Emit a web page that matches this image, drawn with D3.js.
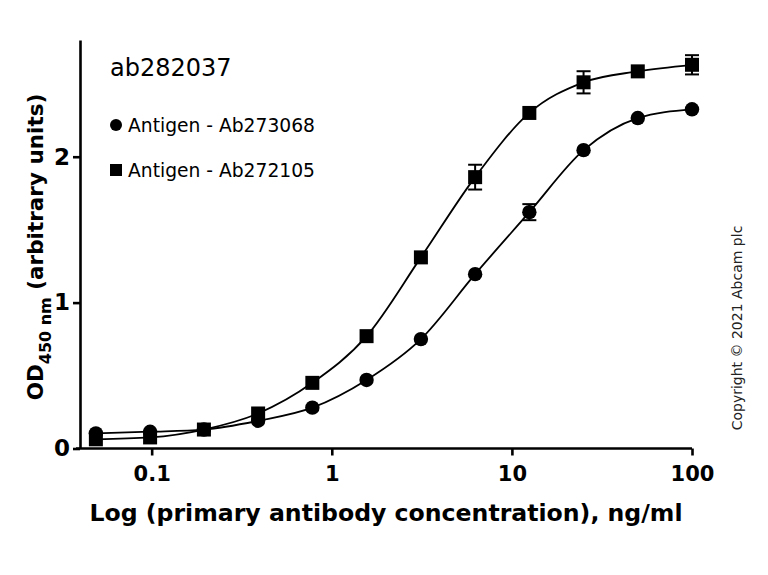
<!DOCTYPE html>
<html>
<head>
<meta charset="utf-8">
<script src="https://cdn.jsdelivr.net/npm/d3@7"></script>
<style>
  body { margin: 0; background: #fff; }
  text { font-family: "DejaVu Sans", sans-serif; }
</style>
</head>
<body>
<div class="canvas"></div>
<script>
const width = 768;
const height = 575;

// Data (2-fold dilution series, ng/ml)
const concentrations = [0.049, 0.098, 0.195, 0.39, 0.78, 1.56, 3.125, 6.25, 12.5, 25, 50, 100];
const ab273068 = [0.104, 0.115, 0.13, 0.19, 0.28, 0.47, 0.75, 1.195, 1.62, 2.045, 2.265, 2.325];
const ab273068Err = [0, 0, 0, 0, 0, 0, 0, 0, 0.055, 0, 0, 0];
const ab272105 = [0.063, 0.076, 0.13, 0.24, 0.45, 0.77, 1.31, 1.86, 2.3, 2.51, 2.585, 2.63];
const ab272105Err = [0, 0, 0, 0, 0, 0, 0, 0.085, 0, 0.076, 0, 0.066];
const xTicks = [0.1, 1, 10, 100];
const yTicks = [0, 1, 2];
const seriesNames = ["Antigen - Ab273068", "Antigen - Ab272105"];

// Scales
const xScale = d3.scaleLog().domain([0.04, 100]).range([80, 692]);
const yScale = d3.scaleLinear().domain([0, 2.8]).range([448.5, 40]);

const svg = d3
  .select(".canvas")
  .append("svg")
  .attr("width", width)
  .attr("height", height);

// Axes
const xAxis = d3
  .axisBottom(xScale)
  .tickValues(xTicks)
  .tickFormat(d3.format("~g"))
  .tickSize(7)
  .tickSizeOuter(0)
  .tickPadding(11);
const yAxis = d3
  .axisLeft(yScale)
  .tickValues(yTicks)
  .tickFormat(d3.format("d"))
  .tickSize(7)
  .tickSizeOuter(0)
  .tickPadding(3);

const gx = svg
  .append("g")
  .attr("class", "axis")
  .attr("transform", `translate(0,${yScale(0)})`)
  .call(xAxis);
gx.select(".domain").attr("d", `M76,0H${xScale(100)}`);
gx.selectAll("text").style("font-size", "21px");

const gy = svg
  .append("g")
  .attr("class", "axis")
  .attr("transform", `translate(${xScale(0.04)},0)`)
  .call(yAxis);
gy.selectAll("text").style("font-size", "23px");

svg.selectAll(".axis path, .axis line")
  .attr("stroke", "#000")
  .attr("stroke-width", 2.6);
svg.selectAll(".axis text")
  .attr("fill", "#000")
  .style("font-family", "'DejaVu Sans', sans-serif")
  .style("font-weight", "bold");

// Axis titles
svg.append("text")
  .attr("x", 386)
  .attr("y", 521)
  .attr("text-anchor", "middle")
  .style("font-weight", "bold")
  .style("font-size", "23.6px")
  .text("Log (primary antibody concentration), ng/ml");

const yTitle = svg.append("text")
  .attr("transform", "translate(43,247) rotate(-90)")
  .attr("text-anchor", "middle")
  .style("font-weight", "bold")
  .style("font-size", "21.5px");
yTitle.append("tspan").text("OD");
yTitle.append("tspan").attr("dy", 8).style("font-size", "16px").text("450 nm");
yTitle.append("tspan").attr("dy", -8).text(" (arbitrary units)");

// Curves through the points
const line = d3.line()
  .x(d => xScale(d[0]))
  .y(d => yScale(d[1]))
  .curve(d3.curveMonotoneX);

const s1 = concentrations.map((c, i) => [c, ab273068[i], ab273068Err[i]]);
const s2 = concentrations.map((c, i) => [c, ab272105[i], ab272105Err[i]]);

[s1, s2].forEach(s => {
  svg.append("path")
    .datum(s)
    .attr("d", line)
    .attr("fill", "none")
    .attr("stroke", "#000")
    .attr("stroke-width", 1.8);
});

// Error bars
function errorBars(s) {
  const g = svg.append("g").attr("stroke", "#000").attr("stroke-width", 2);
  const e = s.filter(d => d[2] > 0);
  g.selectAll("line.v").data(e).enter().append("line")
    .attr("x1", d => xScale(d[0])).attr("x2", d => xScale(d[0]))
    .attr("y1", d => yScale(d[1] - d[2])).attr("y2", d => yScale(d[1] + d[2]));
  g.selectAll("line.t").data(e).enter().append("line")
    .attr("x1", d => xScale(d[0]) - 7).attr("x2", d => xScale(d[0]) + 7)
    .attr("y1", d => yScale(d[1] + d[2])).attr("y2", d => yScale(d[1] + d[2]));
  g.selectAll("line.b").data(e).enter().append("line")
    .attr("x1", d => xScale(d[0]) - 7).attr("x2", d => xScale(d[0]) + 7)
    .attr("y1", d => yScale(d[1] - d[2])).attr("y2", d => yScale(d[1] - d[2]));
}
errorBars(s1);
errorBars(s2);

// Markers
svg.append("g")
  .selectAll("circle")
  .data(s1)
  .enter()
  .append("circle")
  .attr("cx", d => xScale(d[0]))
  .attr("cy", d => yScale(d[1]))
  .attr("r", 7.2)
  .attr("fill", "#000");

svg.append("g")
  .selectAll("rect")
  .data(s2)
  .enter()
  .append("rect")
  .attr("x", d => xScale(d[0]) - 7)
  .attr("y", d => yScale(d[1]) - 7)
  .attr("width", 14)
  .attr("height", 14)
  .attr("fill", "#000");

// Label and legend
svg.append("text")
  .attr("x", 110)
  .attr("y", 76)
  .style("font-size", "24px")
  .text("ab282037");

const legend = svg.append("g");
legend.append("circle").attr("cx", 116).attr("cy", 125).attr("r", 6).attr("fill", "#000");
legend.append("rect").attr("x", 110).attr("y", 164).attr("width", 12).attr("height", 12).attr("fill", "#000");
legend.selectAll("text")
  .data(seriesNames)
  .enter()
  .append("text")
  .attr("x", 128)
  .attr("y", (d, i) => 132 + i * 45)
  .style("font-size", "18.7px")
  .text(d => d);

// Copyright
svg.append("text")
  .attr("transform", "translate(742,328) rotate(-90)")
  .attr("text-anchor", "middle")
  .style("font-size", "14px")
  .attr("fill", "#222")
  .text("Copyright \u00a9 2021 Abcam plc");
</script>
</body>
</html>
